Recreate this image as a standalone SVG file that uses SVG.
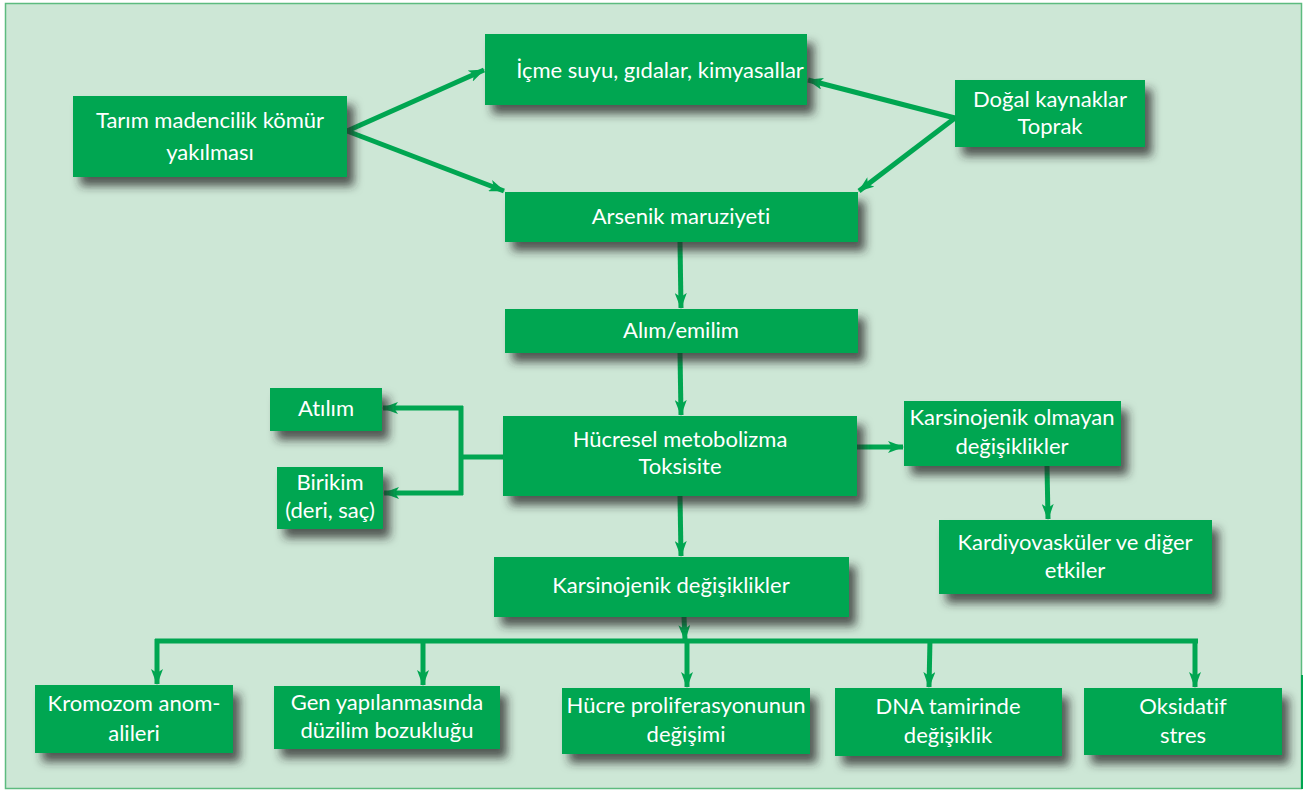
<svg xmlns="http://www.w3.org/2000/svg" width="1309" height="792" viewBox="0 0 1309 792">
<defs>
<filter id="sh" x="-20%" y="-30%" width="150%" height="180%">
<feDropShadow dx="7" dy="9" stdDeviation="5" flood-color="#2a2a2a" flood-opacity="0.75"/>
</filter>
<marker id="ah" viewBox="0 0 16 12" refX="15" refY="6" markerWidth="16" markerHeight="12" markerUnits="userSpaceOnUse" orient="auto">
<path d="M0,0 L16,6 L0,12 L4,6 Z" fill="#00a651"/>
</marker>
<style>
.n{fill:#00a651;filter:url(#sh)}
.t{fill:#ffffff;font-family:Lato,"Open Sans",sans-serif;font-size:22px;text-anchor:middle;font-variant-ligatures:none}
.c{fill:none;stroke:#00a651;stroke-width:5}
.a{marker-end:url(#ah)}
</style>
</defs>
<rect x="0" y="0" width="1309" height="792" fill="#ffffff"/>
<rect x="5.5" y="3.5" width="1296" height="785" fill="#cde7d6" stroke="#5dbb7f" stroke-width="1.5"/>
<line x1="1302" y1="675" x2="1302" y2="789" stroke="#00a651" stroke-width="2"/>
<g id="connectors">
<path class="c a" d="M347,131 L484,70"/>
<path class="c a" d="M347,131 L504,191"/>
<path class="c a" d="M955,118 L808,80"/>
<path class="c a" d="M955,118 L859,191"/>
<path class="c a" d="M680,242 L681,308"/>
<path class="c a" d="M680,353 L681,415"/>
<path class="c" d="M503,457 L461,457 M461,406 L461,495"/>
<path class="c a" d="M463,408 L383,408"/>
<path class="c a" d="M463,493 L384,493"/>
<path class="c a" d="M857,447 L903,447"/>
<path class="c a" d="M1047,466 L1048,519"/>
<path class="c a" d="M680,496 L681,556"/>
<path class="c a" d="M684,617 L685,640"/>
<path class="c" d="M155,641 L1198,641"/>
<path class="c a" d="M157,639 L157,684"/>
<path class="c a" d="M423,639 L423,685"/>
<path class="c a" d="M687,639 L687,687"/>
<path class="c a" d="M930,639 L929,687"/>
<path class="c a" d="M1195,639 L1195,687"/>
</g>
<g id="n-tarim"><rect class="n" x="73" y="96" width="274" height="81"/><text class="t" x="210" y="128">Tarım madencilik kömür</text><text class="t" x="210" y="160">yakılması</text></g>
<g id="n-icme"><rect class="n" x="485" y="34" width="322" height="71"/><text class="t" x="660" y="78">İçme suyu, gıdalar, kimyasallar</text></g>
<g id="n-dogal"><rect class="n" x="955" y="80" width="190" height="67"/><text class="t" x="1050" y="107">Doğal kaynaklar</text><text class="t" x="1050" y="134">Toprak</text></g>
<g id="n-arsenik"><rect class="n" x="505" y="192" width="353" height="50"/><text class="t" x="681" y="224">Arsenik maruziyeti</text></g>
<g id="n-alim"><rect class="n" x="505" y="309" width="353" height="44"/><text class="t" x="681" y="338">Alım/emilim</text></g>
<g id="n-atilim"><rect class="n" x="270" y="388" width="112" height="43"/><text class="t" x="326" y="416">Atılım</text></g>
<g id="n-birikim"><rect class="n" x="277" y="467" width="106" height="62"/><text class="t" x="330" y="490">Birikim</text><text class="t" x="330" y="518">(deri, saç)</text></g>
<g id="n-hucresel"><rect class="n" x="503" y="416" width="354" height="80"/><text class="t" x="680" y="447">Hücresel metobolizma</text><text class="t" x="680" y="474">Toksisite</text></g>
<g id="n-karsolmayan"><rect class="n" x="904" y="401" width="217" height="65"/><text class="t" x="1012" y="425">Karsinojenik olmayan</text><text class="t" x="1012" y="454">değişiklikler</text></g>
<g id="n-kardiyo"><rect class="n" x="939" y="520" width="273" height="74"/><text class="t" x="1075" y="550">Kardiyovasküler ve diğer</text><text class="t" x="1075" y="578">etkiler</text></g>
<g id="n-karsdeg"><rect class="n" x="494" y="557" width="355" height="60"/><text class="t" x="671" y="593">Karsinojenik değişiklikler</text></g>
<g id="n-kromozom"><rect class="n" x="35" y="685" width="198" height="68"/><text class="t" x="134" y="711">Kromozom anom-</text><text class="t" x="134" y="741">alileri</text></g>
<g id="n-gen"><rect class="n" x="274" y="686" width="226" height="63"/><text class="t" x="387" y="710">Gen yapılanmasında</text><text class="t" x="387" y="738">düzilim bozukluğu</text></g>
<g id="n-hucre"><rect class="n" x="562" y="688" width="248" height="66"/><text class="t" x="686" y="713">Hücre proliferasyonunun</text><text class="t" x="686" y="742">değişimi</text></g>
<g id="n-dna"><rect class="n" x="835" y="688" width="227" height="68"/><text class="t" x="948" y="714">DNA tamirinde</text><text class="t" x="948" y="743">değişiklik</text></g>
<g id="n-oksidatif"><rect class="n" x="1084" y="688" width="198" height="67"/><text class="t" x="1183" y="714">Oksidatif</text><text class="t" x="1183" y="743">stres</text></g>
</svg>
